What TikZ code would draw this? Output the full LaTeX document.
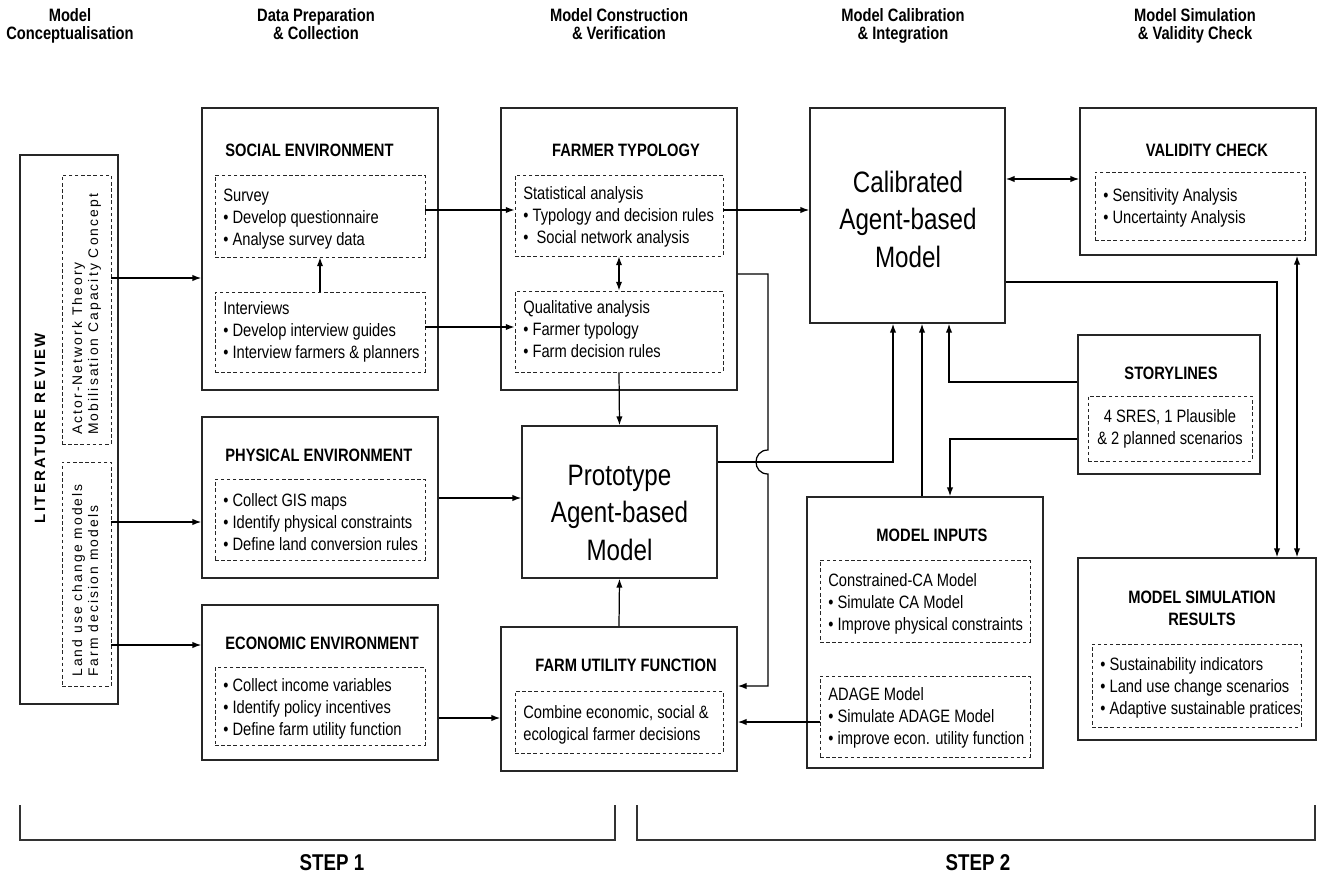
\documentclass[tikz,border=0pt]{standalone}
\usepackage{fontspec}
\setmainfont{Liberation Sans}[FakeStretch=0.82]
\newfontfamily\litfont{Liberation Sans}[LetterSpace=15]
\usetikzlibrary{arrows.meta}
\usetikzlibrary{fit}

\tikzset{
  frame/.style={draw=black!85, line width=0.9pt, inner sep=0pt},
  dashframe/.style={draw=black!85, line width=0.5pt, dash pattern=on 2pt off 1.5pt, inner sep=0pt},
  body/.style={font=\fontsize{10.2}{12.5}\selectfont, align=left, inner sep=0pt, anchor=base west},
  boxtitle/.style={font=\fontsize{10.2}{12.5}\selectfont\bfseries, inner sep=0pt},
  colhead/.style={font=\fontsize{10.2}{10.4}\selectfont\bfseries, align=center, inner sep=0pt, anchor=base},
  bigtext/.style={font=\fontsize{16.8}{21.2}\selectfont, align=center, inner sep=0pt, anchor=base},
  littext/.style={font=\litfont\fontsize{7.9}{9.1}\selectfont, align=left, inner sep=0pt, rotate=90, anchor=base west},
  steplabel/.style={font=\fontsize{13}{15}\selectfont\bfseries, inner sep=0pt, anchor=base},
  link/.style={line width=0.7pt, draw=black},
  arr/.style={link, -{Latex[length=5pt, width=3.6pt]}},
  darr/.style={link, {Latex[length=5pt, width=3.6pt]}-{Latex[length=5pt, width=3.6pt]}},
  bracket/.style={line width=1pt, draw=black!80},
}

\begin{document}
\begin{tikzpicture}[x=0.02cm, y=-0.02cm]
\useasboundingbox (0,0) rectangle (1318,882);

\node[colhead] (headA) at (70,40) {Model\\Conceptualisation};
\node[colhead] (headB) at (316,40) {Data Preparation\\\& Collection};
\node[colhead] (headC) at (619,40) {Model Construction\\\& Verification};
\node[colhead] (headD) at (903,40) {Model Calibration\\\& Integration};
\node[colhead] (headE) at (1195,40) {Model Simulation\\\& Validity Check};

\node[frame, fit={(20,155) (118,704)}] (litrev) {};
\node[dashframe, fit={(62,175) (111,444)}] (litA) {};
\node[dashframe, fit={(62,462) (111,686)}] (litB) {};
\node[font=\litfont\fontsize{8.5}{10}\selectfont\bfseries, rotate=90, inner sep=0pt] (littitle) at (40,428) {LITERATURE REVIEW};
\node[littext] (litAtext) at (98,435) {Actor-Network Theory\\Mobilisation Capacity Concept};
\node[littext] (litBtext) at (98,677) {Land use change models\\Farm decision models};

\node[frame, fit={(202,108) (438,390)}] (social) {};
\node[boxtitle, anchor=base west] (socialttl) at (225,156) {SOCIAL ENVIRONMENT};
\node[dashframe, fit={(215,175) (425,257)}] (survey) {};
\node[body] (surveytxt) at (223,245) {Survey\\\textbullet\ Develop questionnaire\\\textbullet\ Analyse survey data};
\node[dashframe, fit={(215,292) (425,372)}] (interv) {};
\node[body] (intervtxt) at (223,358) {Interviews\\\textbullet\ Develop interview guides\\\textbullet\ Interview farmers \& planners};

\node[frame, fit={(202,417) (438,578)}] (physical) {};
\node[boxtitle, anchor=base west] (physttl) at (225,461) {PHYSICAL ENVIRONMENT};
\node[dashframe, fit={(215,479) (425,560)}] (physlist) {};
\node[body] (phystxt) at (223,550) {\textbullet\ Collect GIS maps\\\textbullet\ Identify physical constraints\\\textbullet\ Define land conversion rules};

\node[frame, fit={(202,605) (438,760)}] (economic) {};
\node[boxtitle, anchor=base west] (econttl) at (225,649) {ECONOMIC ENVIRONMENT};
\node[dashframe, fit={(215,667) (425,745)}] (econlist) {};
\node[body] (econtxt) at (223,735) {\textbullet\ Collect income variables\\\textbullet\ Identify policy incentives\\\textbullet\ Define farm utility function};

\node[frame, fit={(501,108) (737,390)}] (farmtyp) {};
\node[boxtitle, anchor=base] (farmttl) at (626,156) {FARMER TYPOLOGY};
\node[dashframe, fit={(515,175) (723,256)}] (statan) {};
\node[body] (stattxt) at (523,243) {Statistical analysis\\\textbullet\ Typology and decision rules\\\textbullet\ \ Social network analysis};
\node[dashframe, fit={(515,291) (723,372)}] (qualan) {};
\node[body] (qualtxt) at (523,357) {Qualitative analysis\\\textbullet\ Farmer typology\\\textbullet\ Farm decision rules};

\node[frame, fit={(522,426) (717,578)}] (proto) {};
\node[bigtext] (prototxt) at (619.5,560) {Prototype\\Agent-based\\Model};

\node[frame, fit={(501,627) (737,771)}] (utility) {};
\node[boxtitle, anchor=base] (utilttl) at (626,671) {FARM UTILITY FUNCTION};
\node[dashframe, fit={(515,691) (723,753)}] (utilist) {};
\node[body] (utiltxt) at (523,740) {Combine economic, social \&\\ecological farmer decisions};

\node[frame, fit={(810,108) (1005,323)}] (calib) {};
\node[bigtext] (calibtxt) at (908,267) {Calibrated\\Agent-based\\Model};

\node[frame, fit={(1080,108) (1316,255)}] (valid) {};
\node[boxtitle, anchor=base] (validttl) at (1207,156) {VALIDITY CHECK};
\node[dashframe, fit={(1095,172) (1305,240)}] (validlist) {};
\node[body] (validtxt) at (1103,223) {\textbullet\ Sensitivity Analysis\\\textbullet\ Uncertainty Analysis};

\node[frame, fit={(1078,335) (1260,474)}] (story) {};
\node[boxtitle, anchor=base] (storyttl) at (1171,379) {STORYLINES};
\node[dashframe, fit={(1088,396) (1252,461)}] (storylist) {};
\node[body, align=center, anchor=base] (storytxt) at (1170,444) {4 SRES, 1 Plausible\\\& 2 planned scenarios};

\node[frame, fit={(807,497) (1043,768)}] (inputs) {};
\node[boxtitle, anchor=base] (inputsttl) at (932,541) {MODEL INPUTS};
\node[dashframe, fit={(820,560) (1030,642)}] (camodel) {};
\node[body] (catxt) at (828,630) {Constrained-CA Model\\\textbullet\ Simulate CA Model\\\textbullet\ Improve physical constraints};
\node[dashframe, fit={(820,676) (1030,757)}] (adage) {};
\node[body] (adagetxt) at (828,744) {ADAGE Model\\\textbullet\ Simulate ADAGE Model\\\textbullet\ improve econ. utility function};

\node[frame, fit={(1078,558) (1316,740)}] (simres) {};
\node[boxtitle, align=center, anchor=base] (simttl) at (1202,625) {MODEL SIMULATION\\RESULTS};
\node[dashframe, fit={(1092,644) (1301,727)}] (simlist) {};
\node[body] (simtxt) at (1100,714) {\textbullet\ Sustainability indicators\\\textbullet\ Land use change scenarios\\\textbullet\ Adaptive sustainable pratices};

\draw[arr] (litA.east |- 0,278) -- (social.west |- 0,278);
\draw[arr] (litB.east |- 0,522) -- (physical.west |- 0,522);
\draw[arr] (litB.east |- 0,645) -- (economic.west |- 0,645);
\draw[arr] (interv.north) -- (survey.south);
\draw[arr] (survey.east |- 0,210) -- (statan.west |- 0,210);
\draw[arr] (interv.east |- 0,327) -- (qualan.west |- 0,327);
\draw[darr] (statan.south) -- (qualan.north);
\draw[arr] (qualan.south) -- (proto.north);
\draw[arr] (statan.east |- 0,210) -- (calib.west |- 0,210);
\draw[arr] (farmtyp.east |- 0,274) -- (768,274) -- (768,450) .. controls (752,450) and (752,474) .. (768,474) -- (768,686) -- (utility.east |- 0,686);
\draw[arr] (physical.east |- 0,498) -- (proto.west |- 0,498);
\draw[arr] (economic.east |- 0,718) -- (utility.west |- 0,718);
\draw[arr] (utility.north) -- (proto.south);
\draw[arr] (proto.east |- 0,462) -| (calib.south -| 893,0);
\draw[arr] (inputs.north -| 922,0) -- (calib.south -| 922,0);
\draw[arr] (story.west |- 0,382) -| (calib.south -| 949,0);
\draw[arr] (story.west |- 0,439) -| (inputs.north -| 950,0);
\draw[darr] (calib.east |- 0,179) -- (valid.west |- 0,179);
\draw[arr] (calib.east |- 0,282) -| (simres.north -| 1277,0);
\draw[darr] (valid.south -| 1297,0) -- (simres.north -| 1297,0);
\draw[arr] (adage.west |- 0,722) -- (utility.east |- 0,722);

\draw[bracket] (20,805) -- (20,840) -- (615,840) -- (615,805);
\draw[bracket] (637,805) -- (637,840) -- (1315,840) -- (1315,805);
\node[steplabel] (step1) at (332,870) {STEP 1};
\node[steplabel] (step2) at (978,870) {STEP 2};

\end{tikzpicture}
\end{document}
